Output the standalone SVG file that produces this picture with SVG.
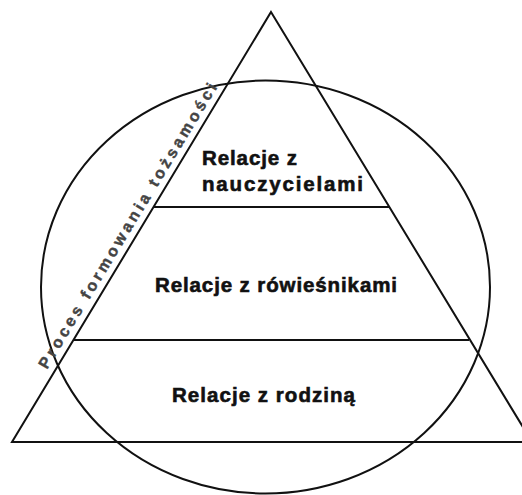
<svg xmlns="http://www.w3.org/2000/svg" width="522" height="495" viewBox="0 0 522 495">
<style>
.ln{fill:none;stroke:#111;stroke-width:2;stroke-linejoin:miter}
.lbl{font-family:"Liberation Sans",Arial,sans-serif;font-weight:bold;font-size:20.5px;fill:#111;stroke:#111;stroke-width:0.6}
.side{font-family:"Liberation Sans",Arial,sans-serif;font-weight:bold;font-size:16px;fill:#444;stroke:#444;stroke-width:0.4}
</style>
<rect width="522" height="495" fill="#fff"/>
<g id="circle">
<ellipse class="ln" cx="265.5" cy="287" rx="224.5" ry="206.5"/>
</g>
<g id="pyramid">
<polygon class="ln" points="271,12 532,442 12,442"/>
</g>
<g id="connectors">
<line class="ln" x1="153" y1="207" x2="389" y2="207"/>
<line class="ln" x1="73" y1="340" x2="469" y2="340"/>
</g>
<g id="level-teachers">
<text class="lbl" x="202" y="165" textLength="95" lengthAdjust="spacing">Relacje z</text>
<text class="lbl" x="202" y="191" textLength="161" lengthAdjust="spacing">nauczycielami</text>
</g>
<g id="level-peers">
<text class="lbl" x="155" y="292" textLength="242" lengthAdjust="spacing">Relacje z rówieśnikami</text>
</g>
<g id="level-family">
<text class="lbl" x="172" y="402" textLength="183" lengthAdjust="spacing">Relacje z rodziną</text>
</g>
<g id="process-label">
<text class="side" transform="translate(47,370) rotate(-58.9)" x="0" y="0" textLength="330" lengthAdjust="spacing">Proces formowania tożsamości</text>
</g>
</svg>
